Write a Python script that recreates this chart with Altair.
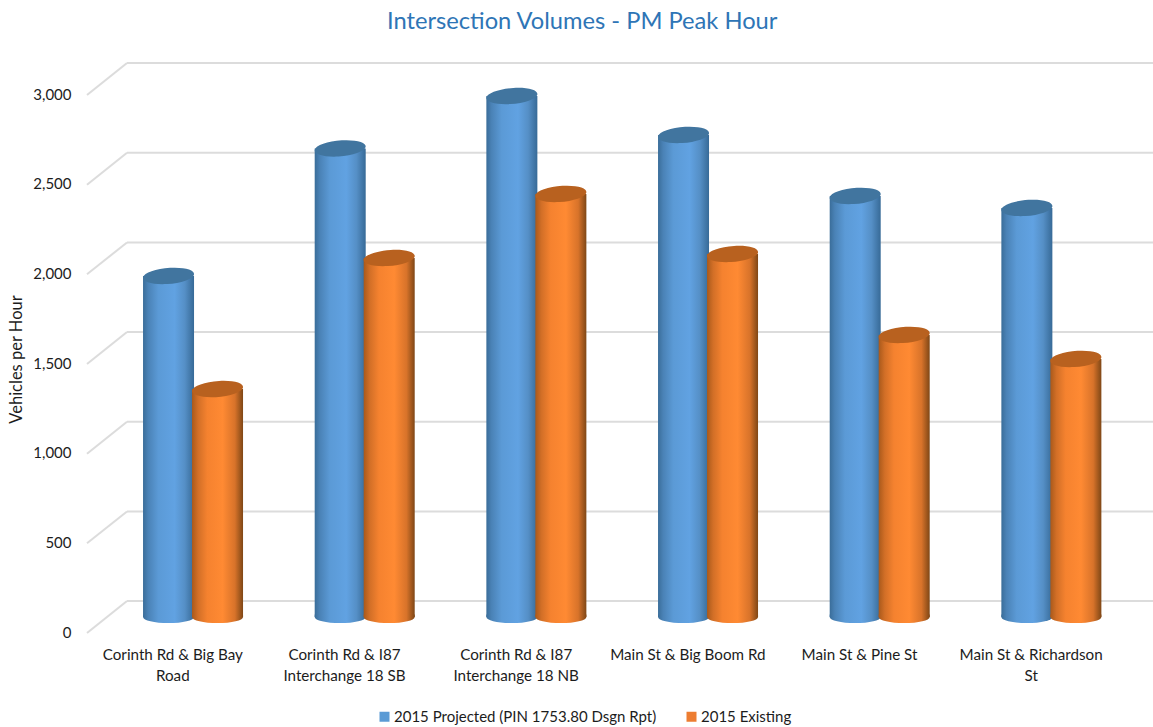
import altair as alt
import pandas as pd

categories = [
    "Corinth Rd & Big Bay|Road",
    "Corinth Rd & I87|Interchange 18 SB",
    "Corinth Rd & I87|Interchange 18 NB",
    "Main St & Big Boom Rd",
    "Main St & Pine St",
    "Main St & Richardson|St",
]
projected = [1902, 2613, 2905, 2688, 2348, 2281]
existing = [1271, 2002, 2359, 2024, 1573, 1439]
series_names = ["2015 Projected (PIN 1753.80 Dsgn Rpt)", "2015 Existing"]
ticks = [0, 500, 1000, 1500, 2000, 2500, 3000]

FONT = "Lato"
TEXT = "#1c1c1c"
GRID = "#dcdcdc"
LEFT, TOP, W, H = 87, 63, 1066, 570
STEP_SPAN = 1030
BAR_WIDTH = 51
CAP_SIZE = 4 * (BAR_WIDTH / 2) ** 2

# The floor recedes: wall gridlines sit this many axis units above the tick labels.
DEPTH_UNITS = 178

TOP_CAP = "M -1 0.06 A 1 0.31 -5 1 1 1 -0.06 A 1 0.31 -5 1 1 -1 0.06 Z"
BASE_CAP = "M -1 0 A 1 0.24 0 1 0 1 0 L 1 -0.1 L -1 -0.1 Z"


def cylinder_fill(stops):
    return alt.Gradient(
        gradient="linear", x1=0, x2=1, y1=0, y2=0,
        stops=[alt.GradientStop(offset=o, color=c) for o, c in stops],
    )


blue_fill = cylinder_fill([(0, "#3a6d99"), (0.1, "#4a82b6"), (0.3, "#5b9ad6"), (0.62, "#61a2e2"),
                           (0.82, "#558fc6"), (1, "#376a97")])
orange_fill = cylinder_fill([(0, "#a9591b"), (0.12, "#d26f27"), (0.3, "#f5822f"), (0.6, "#ff8a33"),
                             (0.84, "#d8732a"), (1, "#7f4716")])

frame = pd.DataFrame({
    "category": categories * 2,
    "series": [series_names[0]] * 6 + [series_names[1]] * 6,
    "value": projected + existing,
    "zero": [0] * 12,
})
grid_frame = pd.DataFrame({"tick": ticks, "back": [t + DEPTH_UNITS for t in ticks]})

wall_y = alt.Scale(domain=[0, 3000], range=[H, H - 538], nice=False, zero=False)
bar_y = alt.Scale(domain=[0, 3000], range=[554, 16], nice=False, zero=False)

y_axis = alt.Axis(
    values=ticks, format=",.0f", domain=False, ticks=False, grid=False,
    labelFont=FONT, labelFontSize=15, labelColor=TEXT, labelPadding=16, labelOffset=-1,
    title="Vehicles per Hour", titleFont=FONT, titleFontSize=16.5, titleFontWeight="normal",
    titleColor=TEXT, titleX=-63, titleY=296,
)

# Floor diagonals with the value axis, then the back-wall gridlines.
diagonals = alt.Chart(grid_frame).mark_rule(color=GRID, strokeWidth=2).encode(
    x=alt.value(0), x2=alt.value(40),
    y=alt.Y("tick:Q", scale=wall_y, axis=y_axis),
    y2="back:Q",
)
wall = alt.Chart(grid_frame).mark_rule(color=GRID, strokeWidth=2).encode(
    x=alt.value(40), x2=alt.value(W),
    y=alt.Y("back:Q", scale=wall_y, axis=None),
)

# Category axis: its own band scale, centred left of the cylinders.
x_axis_layer = alt.Chart(frame).mark_tick(opacity=0).encode(
    x=alt.X(
        "category:N", sort=categories,
        scale=alt.Scale(domain=categories, range=[0, STEP_SPAN], paddingInner=0.5, paddingOuter=0.25),
        axis=alt.Axis(
            title=None, domain=False, ticks=False, grid=False, labelAngle=0,
            labelExpr="split(datum.label, '|')", labelFont=FONT, labelFontSize=15.2,
            labelColor=TEXT, labelLineHeight=21, labelPadding=14, labelLimit=200,
        ),
    )
)


def cylinder(name, offset, fill, cap_color):
    data = frame[frame["series"] == name]
    x = alt.X(
        "category:N", sort=categories, axis=None,
        scale=alt.Scale(domain=categories, range=[offset, offset + STEP_SPAN],
                        paddingInner=0.5, paddingOuter=0.25),
    )
    base = alt.Chart(data).mark_point(
        shape=BASE_CAP, size=CAP_SIZE, filled=True, fill=fill, opacity=1, strokeWidth=0
    ).encode(x=x, y=alt.Y("zero:Q", scale=bar_y, axis=None))
    body = alt.Chart(data).mark_bar(width=BAR_WIDTH, fill=fill).encode(
        x=x, y=alt.Y("value:Q", scale=bar_y, axis=None, stack=None), y2="zero:Q"
    )
    cap = alt.Chart(data).mark_point(
        shape=TOP_CAP, size=CAP_SIZE, filled=True, fill=cap_color, opacity=1, strokeWidth=0
    ).encode(x=x, y=alt.Y("value:Q", scale=bar_y, axis=None))
    return [base, body, cap]


# Series key only; the symbols of this layer have no area in the plot.
key = alt.Chart(frame).mark_square(size=0, opacity=1).encode(
    color=alt.Color(
        "series:N",
        scale=alt.Scale(domain=series_names, range=["#5b9bd5", "#ed7d31"]),
        legend=alt.Legend(
            title=None, orient="none", legendX=290, legendY=646, direction="horizontal",
            symbolType="square", symbolSize=100, symbolStrokeWidth=0, columns=2,
            labelFont=FONT, labelFontSize=15, labelColor=TEXT, labelLimit=400,
            labelOffset=2, columnPadding=27,
        ),
    )
)

layers = [diagonals, wall, x_axis_layer]
layers += cylinder(series_names[0], -4.3, blue_fill, "#41759f")
layers += cylinder(series_names[1], 44.7, orange_fill, "#b8611f")
layers.append(key)

chart = (
    alt.layer(*layers)
    .resolve_scale(x="independent", y="independent")
    .properties(
        width=W, height=H,
        padding={"left": LEFT, "top": TOP, "right": 0, "bottom": 94},
        autosize=alt.AutoSizeParams(type="none"),
        background="white",
        title=alt.TitleParams(
            "Intersection Volumes - PM Peak Hour", anchor="start", dx=379, offset=28,
            font=FONT, fontSize=23.7, fontWeight="normal", color="#2e75b6",
        ),
    )
    .configure_view(stroke=None)
)

chart.save("out.html", embed_options={"renderer": "svg", "actions": False})
